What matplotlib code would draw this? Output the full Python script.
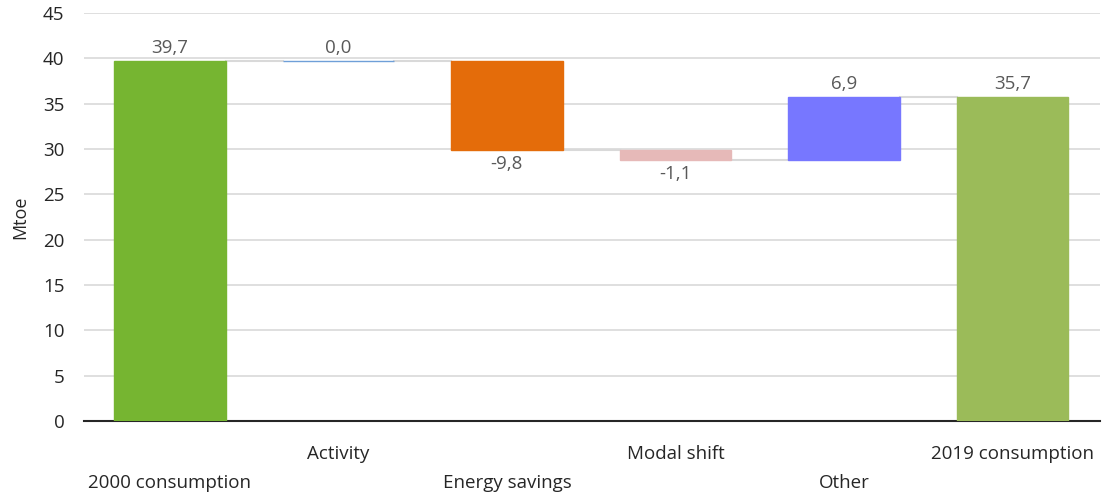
import numpy as np
import matplotlib.pyplot as plt

plt.rcParams['font.family'] = ['Open Sans', 'DejaVu Sans']

# waterfall: start, contributions, end (Mtoe)
labels = ['2000 consumption', 'Activity', 'Energy savings', 'Modal shift', 'Other', '2019 consumption']
values = [39.7, 0.0, -9.8, -1.1, 6.9, 35.7]
colors = ['#76b531', '#6f9fd8', '#e46c0a', '#e6b9b8', '#7777ff', '#9bbb59']

n = len(values)
x = np.arange(n)
bottoms = np.zeros(n)
heights = np.array(values, dtype=float)
running = 0.0
levels = []
for i, v in enumerate(values):
    if i == 0 or i == n - 1:
        bottoms[i] = 0
        running = v
    else:
        bottoms[i] = running
        running = running + v
    levels.append(running)

fig = plt.figure(figsize=(11.05, 4.95), dpi=100)
ax = fig.add_axes([0.076, 0.1495, 0.9195, 0.8242])

w = 0.66
ax.bar(x, heights, bottom=bottoms, width=w, color=colors, edgecolor=colors, linewidth=1.0, zorder=3)

# connectors between bars
for i in range(n - 1):
    ax.plot([x[i] + w / 2, x[i + 1] - w / 2], [levels[i], levels[i]], color='#d9d9d9', lw=1.5, zorder=2)

# value labels
for i, v in enumerate(values):
    txt = ('%.1f' % v).replace('.', ',')
    y = bottoms[i] + heights[i]
    if v >= 0:
        ax.annotate(txt, (x[i], y), xytext=(0, 3), textcoords='offset points',
                    ha='center', va='bottom', fontsize=13.5, color='#595959')
    else:
        ax.annotate(txt, (x[i], y), xytext=(0, -4), textcoords='offset points',
                    ha='center', va='top', fontsize=13.5, color='#595959')

ax.set_xlim(-0.51, 5.52)
ax.set_ylim(0, 45)
ax.set_yticks(np.arange(0, 46, 5))
ax.yaxis.grid(True, color='#d9d9d9', lw=1.2, zorder=0)
ax.set_axisbelow(True)
for s in ['top', 'right', 'left']:
    ax.spines[s].set_visible(False)
ax.spines['bottom'].set_color('#262626')
ax.spines['bottom'].set_linewidth(1.5)
ax.tick_params(axis='y', length=0, labelsize=13.5, labelcolor='#262626', pad=14)
ax.tick_params(axis='x', length=0)
ax.set_xticks(x)
ax.set_xticklabels([])

# staggered category labels
for i, lab in enumerate(labels):
    ty = -6.84 if i % 2 == 0 else -3.64
    ax.text(x[i], ty, lab, ha='center', va='center', fontsize=13.5, color='#262626')

ax.set_ylabel('Mtoe', fontsize=13, color='#262626', labelpad=10)

fig.savefig('out.png', dpi=100)
